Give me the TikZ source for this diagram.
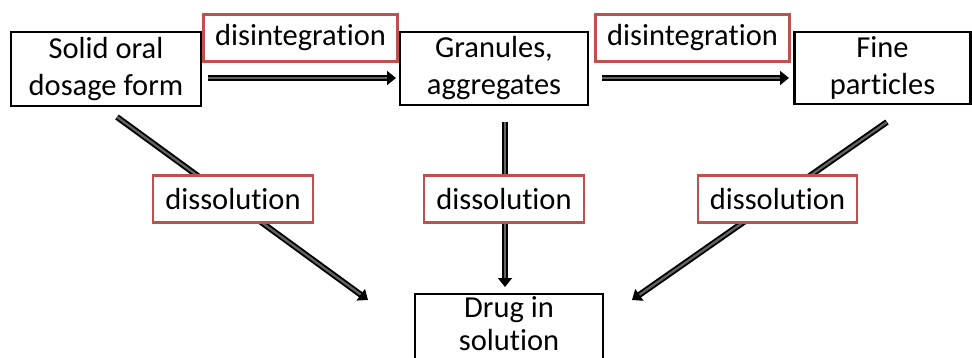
\documentclass[tikz,border=0pt]{standalone}
\usepackage{fontspec}
\setmainfont{Carlito}[Ligatures={NoCommon,NoContextual}]
\usetikzlibrary{arrows.meta}
\begin{document}
\begin{tikzpicture}[x=1pt,y=-1pt,
  box/.style={draw=black,line width=2.4pt,inner sep=0pt,align=center,font=\fontsize{30.5}{37}\selectfont},
  lab/.style={draw={rgb,255:red,192;green,80;blue,77},line width=2.2pt,fill=white,inner sep=0pt,font=\fontsize{30.5}{36}\selectfont},
  flow/.style={draw=black,double={rgb,255:red,100;green,100;blue,100},double distance=2.2pt,line width=1.9pt,
    -{Triangle[length=9pt,width=14pt,fill=black]}}]
\useasboundingbox (0,0) rectangle (972,358);
% boxes
\node[box,minimum width=190pt,minimum height=74pt] (solid) at (106,69) {Solid oral\\dosage form};
\node[box,minimum width=188pt,minimum height=73pt] (gran) at (494,68.5) {Granules,\\aggregates};
\node[box,minimum width=176pt,minimum height=72pt] (fine) at (882.5,68) {Fine\\particles};
\node[box,minimum width=188pt,minimum height=80pt,anchor=north] (drug) at (509,293) {};
\node[font=\fontsize{30.5}{33}\selectfont,align=center] (drugtxt) at (509,324) {Drug in\\solution};
% anchor coordinates for connectors
\coordinate (a1s) at (208,78); \coordinate (a1e) at (396,78);
\coordinate (a2s) at (602,78); \coordinate (a2e) at (789,78);
\coordinate (d1s) at (117,117); \coordinate (d1e) at (368,300);
\coordinate (d2s) at (505,122); \coordinate (d2e) at (505,287);
\coordinate (d3s) at (887,122); \coordinate (d3e) at (632,300);
% arrows
\draw[flow] (a1s) -- (a1e);
\draw[flow] (a2s) -- (a2e);
\draw[flow] (d1s) -- (d1e);
\draw[flow] (d2s) -- (d2e);
\draw[flow] (d3s) -- (d3e);
% labels
\node[lab,minimum width=194pt,minimum height=47pt] (dis1) at (300.5,38) {disintegration};
\node[lab,minimum width=194pt,minimum height=47pt] (dis2) at (692.5,38) {disintegration};
\node[lab,minimum width=160pt,minimum height=47pt] (sol1) at (233,199) {dissolution};
\node[lab,minimum width=160pt,minimum height=47pt] (sol2) at (504,199) {dissolution};
\node[lab,minimum width=159pt,minimum height=47pt] (sol3) at (777.5,199) {dissolution};
\end{tikzpicture}
\end{document}
